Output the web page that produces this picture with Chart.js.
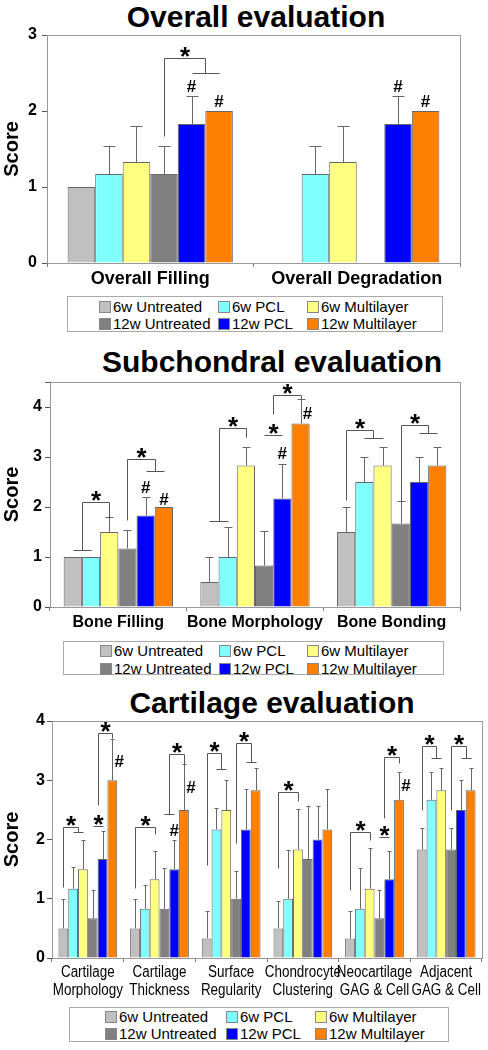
<!DOCTYPE html>
<html>
<head>
<meta charset="utf-8">
<script src="https://cdn.jsdelivr.net/npm/chart.js@4.4.1/dist/chart.umd.min.js"></script>
<style>
  body { margin: 0; width: 488px; height: 1050px; position: relative; background: #fff; overflow: hidden;
         font-family: "Liberation Sans", Arial, sans-serif; }
  canvas { position: absolute; left: 0; }
  .title { position: absolute; width: 400px; text-align: center; font-weight: bold; font-size: 30px; line-height: 30px; white-space: nowrap; }
  .legend { position: absolute; border: 1px solid #aaa; box-sizing: border-box; }
  .item { position: absolute; font-size: 15px; line-height: 15px; white-space: nowrap; }
  .item i { display: inline-block; width: 10px; height: 10px; border: 1px solid #888; margin-right: 2px; vertical-align: -1px; }
</style>
</head>
<body>
<div class="title" style="left:56px;top:2px">Overall evaluation</div>
<canvas id="overall" width="488" height="272" style="top:20px"></canvas>
<div class="legend" id="leg1" style="left:67px;top:296px;width:376px;height:36px"></div>

<div class="title" style="left:72px;top:347px">Subchondral evaluation</div>
<canvas id="subchondral" width="488" height="266" style="top:366px"></canvas>
<div class="legend" id="leg2" style="left:63px;top:641px;width:381px;height:34px"></div>

<div class="title" style="left:72px;top:688px">Cartilage evaluation</div>
<canvas id="cartilage" width="488" height="294" style="top:706px"></canvas>
<div class="legend" id="leg3" style="left:69px;top:1007px;width:380px;height:35px"></div>

<script>
// groups, in the order the bars appear in every category
const groups = ['6w Untreated', '6w PCL', '6w Multilayer', '12w Untreated', '12w PCL', '12w Multilayer'];
const colors = ['#c0c0c0', '#80ffff', '#ffff80', '#808080', '#0000ff', '#ff8000'];

// Overall evaluation
const overallCats = ['Overall Filling', 'Overall Degradation'];
const overallVals = [[1.0, null], [1.17, 1.17], [1.33, 1.33], [1.17, null], [1.83, 1.83], [2.0, 2.0]];
const overallErr  = [[0, null], [0.37, 0.37], [0.47, 0.47], [0.37, null], [0.37, 0.37], [0, 0]];
const overallBrackets = [{c: 0, a: [3], aY: 1.67, top: 2.7, b: [4, 5], bY: 2.5}];
const overallLines = [];
const overallHashes = [{c: 0, d: 4, y: 2.33}, {c: 0, d: 5, y: 2.13}, {c: 1, d: 4, y: 2.33}, {c: 1, d: 5, y: 2.13}];

// Subchondral evaluation
const subCats = ['Bone Filling', 'Bone Morphology', 'Bone Bonding'];
const subVals = [[1.0, 0.5, 1.5], [1.0, 1.0, 2.5], [1.5, 2.83, 2.83], [1.17, 0.83, 1.67], [1.83, 2.17, 2.5], [2.0, 3.67, 2.83]];
const subErr  = [[0, 0.5, 0.5], [0, 0.6, 0.5], [0.3, 0.37, 0.37], [0.37, 0.69, 0.46], [0.37, 0.7, 0.5], [0, 0.48, 0.37]];
const subBrackets = [
  {c: 0, a: [0, 1], aY: 1.15, top: 2.1, b: [2], bY: 1.78},
  {c: 0, a: [3], aY: 1.74, top: 2.96, b: [4, 5], bY: 2.72},
  {c: 1, a: [0, 1], aY: 1.72, top: 3.58, b: [2], bY: 3.4},
  {c: 1, a: [3, 4], nb: true, aY: 3.86, top: 4.24, b: [5], bY: 4.15},
  {c: 2, a: [0], aY: 2.14, top: 3.54, b: [1, 2], bY: 3.38},
  {c: 2, a: [3], aY: 2.1, top: 3.64, b: [4, 5], bY: 3.48}
];
const subLines = [{c: 1, a: 3, b: 4, y: 3.44}];
const subHashes = [{c: 0, d: 4, y: 2.4}, {c: 0, d: 5, y: 2.16}, {c: 1, d: 4, y: 3.08}, {c: 1, d: 5, y: 3.88, side: 'r'}];

// Cartilage evaluation
const cartCats = [['Cartilage', 'Morphology'], ['Cartilage', 'Thickness'], ['Surface', 'Regularity'],
                  ['Chondrocyte', 'Clustering'], ['Neocartilage', 'GAG & Cell'], ['Adjacent', 'GAG & Cell']];
const cartVals = [
  [0.5, 0.5, 0.33, 0.5, 0.33, 1.83],
  [1.17, 0.83, 2.17, 1.0, 0.83, 2.67],
  [1.5, 1.33, 2.5, 1.83, 1.17, 2.83],
  [0.67, 0.83, 1.0, 1.67, 0.67, 1.83],
  [1.67, 1.5, 2.17, 2.0, 1.33, 2.5],
  [3.0, 2.5, 2.83, 2.17, 2.67, 2.83]
];
const cartErr = [
  [0.5, 0.5, 0.47, 0.47, 0.47, 0.37],
  [0.37, 0.4, 0.37, 0.82, 0.69, 0.47],
  [0.5, 0.47, 0.5, 0.69, 0.69, 0.37],
  [0.47, 0.69, 0.47, 0.9, 0.47, 0.37],
  [0.47, 0.5, 0.69, 0.57, 0.47, 0.5],
  [0.7, 0.77, 0.37, 0.69, 0.47, 0.37]
];
const cartBrackets = [
  {c: 0, a: [0], aY: 1.2, top: 2.21, b: [1, 2], bY: 2.12},
  {c: 0, a: [3, 4], nb: true, aY: 2.58, top: 3.79, b: [5], bY: 3.72},
  {c: 1, a: [0], aY: 1.18, top: 2.21, b: [2], bY: 2.1},
  {c: 1, a: [3, 4], aY: 2.43, top: 3.44, b: [5], bY: 3.27},
  {c: 2, a: [0], aY: 1.57, top: 3.46, b: [1, 2], bY: 3.19},
  {c: 2, a: [3], aY: 1.94, top: 3.63, b: [4, 5], bY: 3.3},
  {c: 3, a: [0], aY: 1.52, top: 2.8, b: [2], bY: 2.65},
  {c: 4, a: [0], aY: 1.15, top: 2.12, b: [2], bY: 2.0},
  {c: 4, a: [3, 4], nb: true, aY: 2.36, top: 3.39, b: [5], bY: 3.29},
  {c: 5, a: [0], aY: 2.5, top: 3.57, b: [1, 2], bY: 3.37},
  {c: 5, a: [3], aY: 2.5, top: 3.57, b: [4, 5], bY: 3.37}
];
const cartLines = [{c: 0, a: 3, b: 4, y: 2.22}, {c: 4, a: 3, b: 4, y: 2.04}];
const cartHashes = [{c: 0, d: 5, y: 3.32, side: 'r'}, {c: 1, d: 4, y: 2.16}, {c: 1, d: 5, y: 2.88, side: 'r'}, {c: 4, d: 5, y: 2.92, side: 'r'}];

Chart.defaults.font.family = '"Liberation Sans", Arial, sans-serif';

// error bars (upper only), significance brackets, stars and hashes
const marksPlugin = {
  id: 'marks',
  beforeDatasetsDraw(chart) {
    const {ctx, chartArea: a} = chart;
    ctx.save();
    ctx.strokeStyle = '#999';
    ctx.lineWidth = 1;
    ctx.strokeRect(Math.round(a.left) + 0.5, Math.round(a.top) + 0.5, Math.round(a.right - a.left), Math.round(a.bottom - a.top));
    ctx.restore();
  },
  afterDatasetsDraw(chart) {
    const ctx = chart.ctx;
    const yS = chart.scales.y;
    const o = chart.config._config.marks;
    const py = v => Math.round(yS.getPixelForValue(v)) + 0.5;
    const bx = (c, d) => chart.getDatasetMeta(d).data[c].x;
    const px = x => Math.round(x) + 0.5;
    const mid = (c, arr) => (bx(c, arr[0]) + bx(c, arr[arr.length - 1])) / 2;
    const seg = (x1, y1, x2, y2) => { ctx.beginPath(); ctx.moveTo(x1, y1); ctx.lineTo(x2, y2); ctx.stroke(); };
    const star = (x, y) => {
      ctx.font = 'bold 26px "Liberation Sans", Arial';
      ctx.textAlign = 'center';
      ctx.textBaseline = 'alphabetic';
      ctx.fillText('*', x, y + 6);
    };
    ctx.save();
    ctx.strokeStyle = '#666';
    ctx.fillStyle = '#000';
    ctx.lineWidth = 1;

    chart.data.datasets.forEach((ds, d) => {
      chart.getDatasetMeta(d).data.forEach((bar, c) => {
        const v = ds.data[c], e = ds.err[c];
        if (v == null || !e) return;
        const x = px(bar.x), t = py(v + e), w = Math.max(2, Math.round(bar.width * 0.22));
        seg(x, bar.y, x, t);
        seg(x - w, t, x + w, t);
      });
    });

    ctx.strokeStyle = '#555';
    o.brackets.forEach(b => {
      const ax = px(mid(b.c, b.a)), bX = px(mid(b.c, b.b)), top = py(b.top);
      ctx.beginPath();
      ctx.moveTo(ax, py(b.aY));
      ctx.lineTo(ax, top);
      ctx.lineTo(bX, top);
      ctx.lineTo(bX, py(b.bY));
      ctx.stroke();
      if (b.a.length > 1 && !b.nb) seg(px(bx(b.c, b.a[0])), py(b.aY), px(bx(b.c, b.a[b.a.length - 1])), py(b.aY));
      if (b.b.length > 1) seg(px(bx(b.c, b.b[0])), py(b.bY), px(bx(b.c, b.b[b.b.length - 1])), py(b.bY));
      star((ax + bX) / 2, top);
    });
    o.lines.forEach(l => {
      const x1 = px(bx(l.c, l.a)), x2 = px(bx(l.c, l.b)), y = py(l.y);
      seg(x1, y, x2, y);
      star((x1 + x2) / 2, y);
    });
    ctx.font = 'bold 17px "Liberation Sans", Arial';
    ctx.textAlign = 'center';
    ctx.textBaseline = 'alphabetic';
    o.hashes.forEach(h => {
      const x = bx(h.c, h.d) + (h.side === 'r' ? 7 : 0);
      ctx.fillText('#', x, yS.getPixelForValue(h.y) + 6);
    });
    ctx.restore();
  },
  afterDraw(chart) {
    // condensed two-line category labels (bottom chart)
    const sq = chart.config._config.squeeze;
    if (!sq) return;
    const ctx = chart.ctx, xS = chart.scales.x;
    ctx.save();
    ctx.fillStyle = '#000';
    ctx.font = '16px "Liberation Sans", Arial';
    ctx.textAlign = 'center';
    ctx.textBaseline = 'middle';
    chart.data.labels.forEach((lab, i) => {
      const x = xS.getPixelForTick(i);
      lab.forEach((line, j) => {
        ctx.save();
        ctx.translate(x, xS.top + 15 + j * 18);
        ctx.scale(sq, 1);
        ctx.fillText(line, 0, 0);
        ctx.restore();
      });
    });
    ctx.restore();
  }
};

function makeChart(id, cats, vals, errs, marks, opt) {
  return new Chart(document.getElementById(id), {
    type: 'bar',
    data: {
      labels: cats,
      datasets: groups.map((g, i) => ({
        label: g,
        data: vals[i],
        err: errs[i],
        backgroundColor: colors[i],
        borderColor: '#666',
        borderWidth: 1,
        categoryPercentage: opt.catPct,
        barPercentage: 1
      }))
    },
    marks: marks,
    squeeze: opt.squeeze,
    options: {
      responsive: false,
      animation: false,
      events: [],
      layout: { autoPadding: false, padding: { top: opt.padTop, right: opt.padRight, bottom: 0, left: 0 } },
      plugins: { legend: { display: false }, tooltip: { enabled: false } },
      scales: {
        x: {
          grid: { drawOnChartArea: false, tickLength: 4, color: '#777' },
          border: { color: '#777' },
          ticks: { display: !opt.squeeze, color: '#000', font: opt.xFont, padding: opt.xPad, maxRotation: 0, autoSkip: false },
          afterFit: s => { s.height = opt.xH; s.paddingLeft = 0; s.paddingRight = 0; }
        },
        y: {
          min: 0,
          max: opt.max,
          ticks: { stepSize: 1, color: '#000', font: { weight: 'bold', size: 16 }, padding: opt.yPad,
                   callback: v => Number.isInteger(v) ? v : '' },
          grid: { drawOnChartArea: false, tickLength: 5, color: '#555' },
          border: { color: '#555' },
          title: { display: true, text: 'Score', color: '#000', font: { weight: 'bold', size: 20 }, padding: 0 },
          afterFit: s => { s.width = opt.yW; s.paddingTop = 0; s.paddingBottom = 0; }
        }
      }
    },
    plugins: [marksPlugin]
  });
}

function makeLegend(id, cols, rows) {
  const box = document.getElementById(id);
  groups.forEach((g, i) => {
    const it = document.createElement('div');
    it.className = 'item';
    it.style.left = cols[i % 3] + 'px';
    it.style.top = rows[Math.floor(i / 3)] + 'px';
    it.innerHTML = '<i style="background:' + colors[i] + '"></i>' + g;
    box.appendChild(it);
  });
}

makeChart('overall', overallCats, overallVals, overallErr,
  { brackets: overallBrackets, lines: overallLines, hashes: overallHashes },
  { catPct: 0.8, padTop: 15, padRight: 28, xH: 29, yW: 47, max: 3, yPad: 5,
    xFont: { weight: 'bold', size: 18 }, xPad: 1 });

makeChart('subchondral', subCats, subVals, subErr,
  { brackets: subBrackets, lines: subLines, hashes: subHashes },
  { catPct: 0.8, padTop: 16, padRight: 28, xH: 25, yW: 50, max: 4.5, yPad: 3,
    xFont: { weight: 'bold', size: 16 }, xPad: 2 });

makeChart('cartilage', cartCats, cartVals, cartErr,
  { brackets: cartBrackets, lines: cartLines, hashes: cartHashes },
  { catPct: 0.82, padTop: 15, padRight: 6, xH: 42, yW: 52, max: 4, yPad: 2,
    xFont: { size: 16 }, xPad: 2, squeeze: 0.84 });

makeLegend('leg1', [31, 150, 239], [2, 19]);
makeLegend('leg2', [36, 155, 243], [1, 19]);
makeLegend('leg3', [35, 156, 245], [1, 18]);
</script>
</body>
</html>
